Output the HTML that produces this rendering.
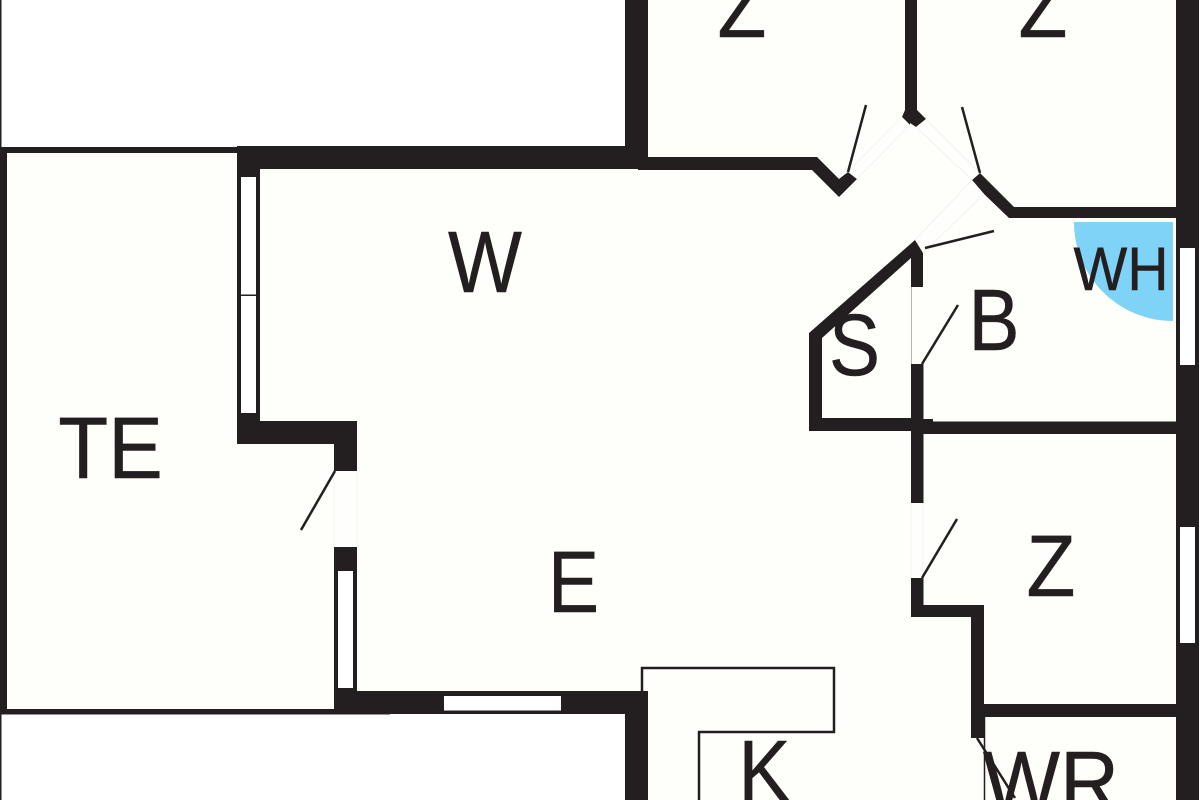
<!DOCTYPE html>
<html>
<head>
<meta charset="utf-8">
<style>
html,body{margin:0;padding:0;width:1200px;height:800px;overflow:hidden;background:#fff}
svg{display:block}
text{font-family:"Liberation Sans",sans-serif;fill:#231f20;stroke:#231f20;stroke-width:.5}
</style>
</head>
<body>
<svg width="1200" height="800" viewBox="0 0 1200 800" xmlns="http://www.w3.org/2000/svg">
<rect width="1200" height="800" fill="#ffffff"/>
<!-- interior -->
<polygon fill="#fefefa" points="625,0 1198,0 1198,800 648,800 625,714 0,714 0,148 625,148"/>
<rect x="0" y="0" width="1.5" height="800" fill="#231f20"/>
<!-- blue -->
<path d="M1173,222 L1074,222 A99,99 0 0 0 1173,321 Z" fill="#7fd3f7"/>
<g fill="#231f20">
<!-- terrace outline -->
<rect x="0" y="147" width="240" height="6"/>
<rect x="0" y="147" width="7" height="567"/>
<rect x="0" y="709" width="390" height="5.5"/>
<!-- top thick wall + left wall -->
<rect x="237" y="146" width="411" height="23"/>
<rect x="237" y="146" width="23" height="298"/>
<rect x="237" y="421" width="120" height="23"/>
<rect x="334" y="421" width="23" height="50"/>
<rect x="334" y="547" width="23" height="167"/>
<rect x="334" y="691" width="314" height="23"/>
<rect x="625" y="691" width="23" height="109"/>
<rect x="625" y="0" width="23" height="169"/>
<!-- upper thin wall -->
<polygon points="638,157 817,157 839,179 848,172 857,179 839,197 812,170 638,170"/>
<!-- center wall -->
<polygon points="905,0 917,0 917,110 926,119 916,127 910,123 910,125 902,117 905,110"/>
<!-- right diagonal wall -->
<polygon points="972,180 980,173 1014,207 1180,207 1180,218 1009,218 984,194"/>
<!-- right outer wall -->
<rect x="1176" y="0" width="23" height="800"/>
<!-- S room -->
<polygon points="915,240 923,247 927,248 923,253 923,287 911,287 911,258 822,338 822,418 917,418 917,431 809,431 809,333"/>
<rect x="911" y="364" width="12.5" height="139"/>
<rect x="917" y="421.5" width="260" height="12.5"/>
<rect x="917" y="419" width="16" height="4"/>
<!-- lower Z wall -->
<rect x="911" y="578" width="12.5" height="39"/>
<rect x="911" y="605" width="73" height="12"/>
<rect x="971" y="605" width="13" height="133"/>
<rect x="971" y="704" width="206" height="13"/>
</g>
<!-- windows -->
<g fill="#ffffff">
<rect x="241" y="177" width="15" height="236"/>
<rect x="338" y="571" width="15" height="117"/>
<rect x="444" y="696" width="117" height="14.5"/>
<rect x="1180" y="248" width="15" height="117"/>
<rect x="1180" y="527" width="15" height="116"/>
</g>
<!-- door openings -->
<g fill="#fefefc">
<rect x="334" y="471" width="23" height="76"/>
<rect x="911" y="503" width="12.5" height="75"/>
<polygon points="857,179 848,172 902,117 910,125"/>
<polygon points="926,119 916,127 972,180 980,173"/>
<polygon points="923,253 915,240 972,180 984,194"/>
</g>
<rect x="241" y="294.5" width="15" height="1.5" fill="#231f20"/>
<!-- faint door gap lines -->
<g stroke="#f2f2ee" stroke-width="1" fill="none">
<line x1="334" y1="471" x2="334" y2="547"/>
<line x1="357" y1="471" x2="357" y2="547"/>
<line x1="911" y1="503" x2="911" y2="578"/>
<line x1="923" y1="503" x2="923" y2="578"/>
<line x1="857" y1="179" x2="910" y2="125"/>
<line x1="848" y1="172" x2="902" y2="117"/>
<line x1="926" y1="119" x2="980" y2="173"/>
<line x1="916" y1="127" x2="972" y2="180"/>
<line x1="915" y1="240" x2="972" y2="180"/>
<line x1="923" y1="253" x2="984" y2="194"/>
</g>
<line x1="911.5" y1="287" x2="911.5" y2="364" stroke="#b5b5b5" stroke-width="1"/>
<!-- door leaves -->
<g stroke="#231f20" stroke-width="2.5" fill="none">
<line x1="848" y1="172" x2="866" y2="105"/>
<line x1="962" y1="107" x2="980" y2="173"/>
<line x1="925" y1="248" x2="994" y2="231"/>
<line x1="922" y1="364" x2="958" y2="305"/>
<line x1="922" y1="578" x2="957" y2="519"/>
<line x1="335" y1="471" x2="301" y2="530"/>
<line x1="977" y1="738" x2="1015" y2="798"/>
</g>
<!-- counter -->
<g fill="none" stroke="#231f20" stroke-width="2.5">
<polyline points="642,691 642,668 834,668 834,732 699,732 699,800"/>
</g>
<line x1="984.5" y1="717" x2="984.5" y2="800" stroke="#231f20" stroke-width="1.5"/>
<!-- labels -->
<g font-size="87" text-anchor="middle">
<text transform="translate(742,37) scale(.92,1)">Z</text>
<text transform="translate(1043,37) scale(.92,1)">Z</text>
<text transform="translate(485,292) scale(.9,1)">W</text>
<text transform="translate(110.5,478) scale(.94,1)">TE</text>
<text transform="translate(573.5,612) scale(.88,1)">E</text>
<text transform="translate(854.5,375) scale(.88,1)">S</text>
<text transform="translate(994,350) scale(.88,1)">B</text>
<text transform="translate(1051,596) scale(.92,1)">Z</text>
<text transform="translate(764.5,801) scale(.9,1)">K</text>
<text transform="translate(1051,812) scale(.94,1)">WR</text>
</g>
<text x="1121" y="290" font-size="61" text-anchor="middle" textLength="95" lengthAdjust="spacingAndGlyphs">WH</text>
</svg>
</body>
</html>
